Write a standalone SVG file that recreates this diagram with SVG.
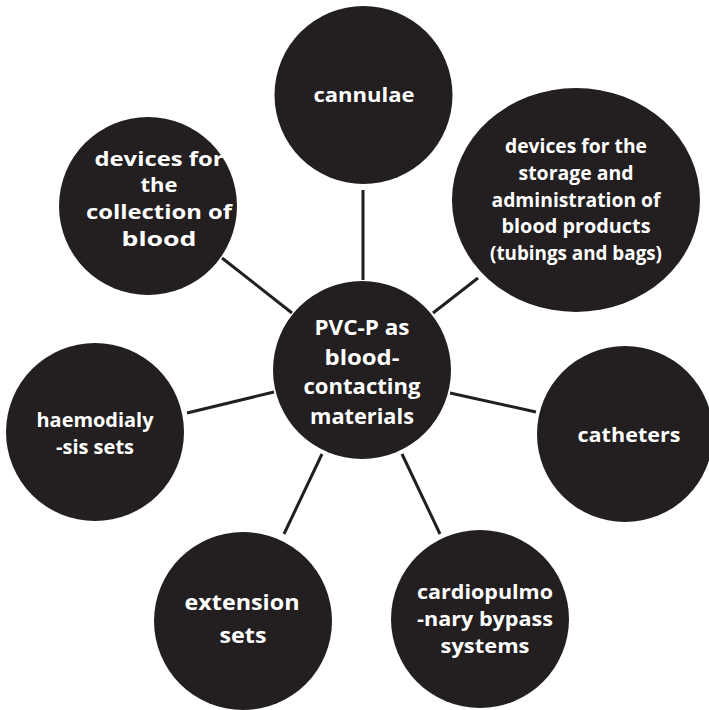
<svg xmlns="http://www.w3.org/2000/svg" width="709" height="710" viewBox="0 0 709 710">
<style>
.n{fill:#231f20}
.e{stroke:#231f20;stroke-width:3;fill:none}
text{font-family:"Open Sans","Liberation Sans",sans-serif;font-weight:bold;fill:#fff;text-anchor:middle;font-size:20px}
.big{font-size:22px}
</style>
<rect width="709" height="710" fill="#fff"/>
<g id="connectors">
<line class="e" x1="363" y1="190" x2="363" y2="280"/>
<line class="e" x1="478" y1="278" x2="433" y2="313"/>
<line class="e" x1="222" y1="258" x2="292" y2="313"/>
<line class="e" x1="187" y1="413" x2="274" y2="392"/>
<line class="e" x1="450" y1="393" x2="536" y2="412"/>
<line class="e" x1="322" y1="454" x2="284" y2="534"/>
<line class="e" x1="402" y1="454" x2="440" y2="534"/>
</g>
<g id="center">
<circle class="n" cx="362" cy="370" r="89"/>
<text class="big" x="362" y="335" textLength="95" lengthAdjust="spacingAndGlyphs">PVC-P as</text>
<text class="big" x="362" y="365" textLength="75" lengthAdjust="spacingAndGlyphs">blood-</text>
<text class="big" x="362" y="394" textLength="117" lengthAdjust="spacingAndGlyphs">contacting</text>
<text class="big" x="362" y="424" textLength="104" lengthAdjust="spacingAndGlyphs">materials</text>
</g>
<g id="cannulae">
<circle class="n" cx="363.5" cy="95" r="89"/>
<text x="364" y="102" textLength="101" lengthAdjust="spacingAndGlyphs">cannulae</text>
</g>
<g id="storage">
<ellipse class="n" cx="576" cy="200" rx="124" ry="112"/>
<text x="576" y="153" textLength="142" lengthAdjust="spacingAndGlyphs">devices for the</text>
<text x="576" y="180" textLength="115" lengthAdjust="spacingAndGlyphs">storage and</text>
<text x="576" y="207" textLength="169" lengthAdjust="spacingAndGlyphs">administration of</text>
<text x="576" y="233" textLength="149" lengthAdjust="spacingAndGlyphs">blood products</text>
<text x="576" y="260" textLength="172" lengthAdjust="spacingAndGlyphs">(tubings and bags)</text>
</g>
<g id="collection">
<circle class="n" cx="148" cy="206" r="89"/>
<text x="159" y="166" textLength="129" lengthAdjust="spacingAndGlyphs">devices for</text>
<text x="159" y="192" textLength="37" lengthAdjust="spacingAndGlyphs">the</text>
<text x="159" y="219" textLength="146" lengthAdjust="spacingAndGlyphs">collection of</text>
<text x="159" y="246" textLength="75" lengthAdjust="spacingAndGlyphs">blood</text>
</g>
<g id="haemodialysis">
<circle class="n" cx="95" cy="432" r="89"/>
<text x="95" y="427" textLength="117" lengthAdjust="spacingAndGlyphs">haemodialy</text>
<text x="95" y="454" textLength="78" lengthAdjust="spacingAndGlyphs">-sis sets</text>
</g>
<g id="catheters">
<circle class="n" cx="625" cy="434" r="88"/>
<text x="629" y="442" textLength="103" lengthAdjust="spacingAndGlyphs">catheters</text>
</g>
<g id="extension">
<circle class="n" cx="243" cy="621" r="89"/>
<text class="big" x="242" y="610" textLength="115" lengthAdjust="spacingAndGlyphs">extension</text>
<text class="big" x="243" y="643" textLength="47" lengthAdjust="spacingAndGlyphs">sets</text>
</g>
<g id="cardiopulmonary">
<circle class="n" cx="480" cy="619" r="89"/>
<text x="485" y="599" textLength="136" lengthAdjust="spacingAndGlyphs">cardiopulmo</text>
<text x="485" y="626" textLength="136" lengthAdjust="spacingAndGlyphs">-nary bypass</text>
<text x="485" y="653" textLength="89" lengthAdjust="spacingAndGlyphs">systems</text>
</g>
</svg>
